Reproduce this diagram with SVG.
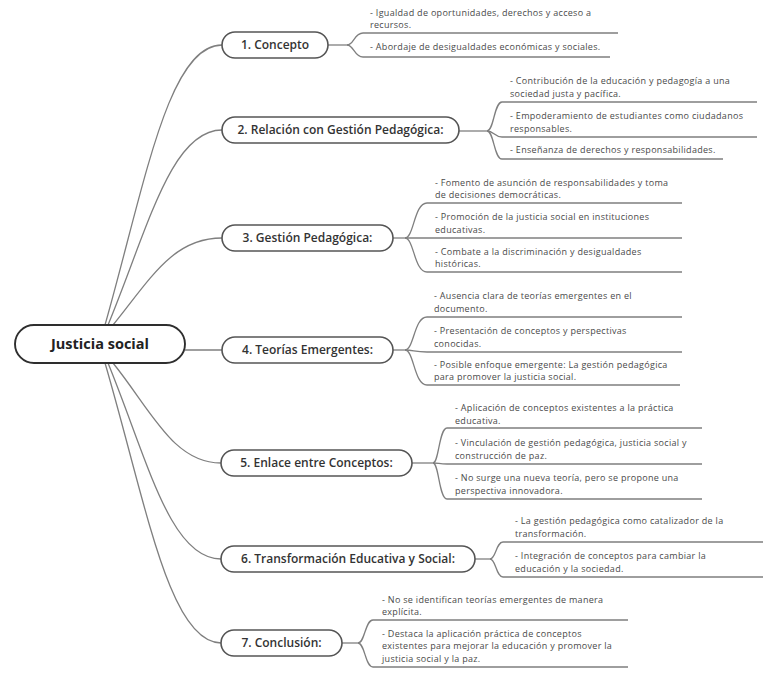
<svg xmlns="http://www.w3.org/2000/svg" width="775" height="680" viewBox="0 0 775 680">
<style>
.bg{fill:#ffffff}
.con{fill:none;stroke:#7f7f7f;stroke-width:1.3}
.sub{fill:#ffffff;stroke:#555555;stroke-width:1.6}
.root{fill:#ffffff;stroke:#2e2e2e;stroke-width:1.9}
.rt{font-family:"Open Sans","DejaVu Sans",sans-serif;font-size:14.5px;font-weight:700;fill:#222;text-anchor:middle}
.st{font-family:"Open Sans","DejaVu Sans",sans-serif;font-size:12px;font-weight:600;fill:#333;text-anchor:middle}
.lt{font-family:"Open Sans","DejaVu Sans",sans-serif;font-size:9px;letter-spacing:0.3px;fill:#4a4a4a}
</style>
<rect class="bg" x="0" y="0" width="775" height="680"/>
<g id="connectors">
  <path class="con" d="M105,325 C145,184 168,45 222,45"/>
  <path class="con" d="M108,325 C148,228 171,130 222,130"/>
  <path class="con" d="M113,325 C151,278 173,238 222,238"/>
  <path class="con" d="M185,350 H222"/>
  <path class="con" d="M113,363 C151,410 173,463 221,463"/>
  <path class="con" d="M108,363 C148,461 170,559 221,559"/>
  <path class="con" d="M105,363 C146,503 169,643 221,643"/>
  <path class="con" d="M328,45 H347"/>
  <path class="con" d="M347,45 C354,45 354,33 363,33 H618"/>
  <path class="con" d="M347,45 C354,45 354,57 363,57 H610"/>
  <path class="con" d="M459,131 H487"/>
  <path class="con" d="M487,131 C494,131 494,102 502,102 H757"/>
  <path class="con" d="M487,131 C494,131 494,137 502,137 H757"/>
  <path class="con" d="M487,131 C494,131 494,159 502,159 H723"/>
  <path class="con" d="M393,238 H405"/>
  <path class="con" d="M405,238 C414,238 414,203 427,203 H682"/>
  <path class="con" d="M405,238 H682"/>
  <path class="con" d="M405,238 C414,238 414,272 427,272 H682"/>
  <path class="con" d="M393,350 H405"/>
  <path class="con" d="M405,350 C414,350 414,317 427,317 H682"/>
  <path class="con" d="M405,350 C414,350 414,352 427,352 H682"/>
  <path class="con" d="M405,350 C414,350 414,385 427,385 H680"/>
  <path class="con" d="M412,463 H433"/>
  <path class="con" d="M433,463 C439,463 439,428 447,428 H702"/>
  <path class="con" d="M433,463 C439,463 439,464 447,464 H702"/>
  <path class="con" d="M433,463 C439,463 439,499 447,499 H702"/>
  <path class="con" d="M475,559 H490"/>
  <path class="con" d="M490,559 C496,559 496,542 503,542 H763"/>
  <path class="con" d="M490,559 C496,559 496,577 503,577 H763"/>
  <path class="con" d="M342,643 H358"/>
  <path class="con" d="M358,643 C365,643 365,620 373,620 H628"/>
  <path class="con" d="M358,643 C365,643 365,667 373,667 H628"/>
</g>
<g id="root">
  <rect class="root" x="15" y="325" width="170" height="38" rx="19"/>
  <text class="rt" x="100" y="349">Justicia social</text>
</g>
<g id="n1">
  <rect class="sub" x="222" y="32" width="106" height="26" rx="13"/>
  <text class="st" x="275" y="49">1. Concepto</text>
</g>
<g id="n2">
  <rect class="sub" x="222" y="117" width="237" height="26" rx="13"/>
  <text class="st" x="340.5" y="134">2. Relación con Gestión Pedagógica:</text>
</g>
<g id="n3">
  <rect class="sub" x="222" y="225" width="171" height="26" rx="13"/>
  <text class="st" x="307.5" y="242">3. Gestión Pedagógica:</text>
</g>
<g id="n4">
  <rect class="sub" x="222" y="337" width="171" height="26" rx="13"/>
  <text class="st" x="307.5" y="354">4. Teorías Emergentes:</text>
</g>
<g id="n5">
  <rect class="sub" x="221" y="450" width="191" height="26" rx="13"/>
  <text class="st" x="316.5" y="467">5. Enlace entre Conceptos:</text>
</g>
<g id="n6">
  <rect class="sub" x="221" y="546" width="254" height="26" rx="13"/>
  <text class="st" x="348" y="563">6. Transformación Educativa y Social:</text>
</g>
<g id="n7">
  <rect class="sub" x="221" y="630" width="121" height="26" rx="13"/>
  <text class="st" x="281.5" y="647">7. Conclusión:</text>
</g>
<g id="leaves1">
  <text class="lt" x="370" y="16">- Igualdad de oportunidades, derechos y acceso a<tspan x="370" dy="12.4">recursos.</tspan></text>
  <text class="lt" x="370" y="50">- Abordaje de desigualdades económicas y sociales.</text>
</g>
<g id="leaves2">
  <text class="lt" x="510" y="84.4">- Contribución de la educación y pedagogía a una<tspan x="510" dy="12.4">sociedad justa y pacífica.</tspan></text>
  <text class="lt" x="510" y="119.4">- Empoderamiento de estudiantes como ciudadanos<tspan x="510" dy="12.4">responsables.</tspan></text>
  <text class="lt" x="510" y="153">- Enseñanza de derechos y responsabilidades.</text>
</g>
<g id="leaves3">
  <text class="lt" x="435" y="186">- Fomento de asunción de responsabilidades y toma<tspan x="435" dy="12.4">de decisiones democráticas.</tspan></text>
  <text class="lt" x="435" y="220.4">- Promoción de la justicia social en instituciones<tspan x="435" dy="12.4">educativas.</tspan></text>
  <text class="lt" x="435" y="255">- Combate a la discriminación y desigualdades<tspan x="435" dy="12.4">históricas.</tspan></text>
</g>
<g id="leaves4">
  <text class="lt" x="434" y="299.4">- Ausencia clara de teorías emergentes en el<tspan x="434" dy="12.4">documento.</tspan></text>
  <text class="lt" x="434" y="334.4">- Presentación de conceptos y perspectivas<tspan x="434" dy="12.4">conocidas.</tspan></text>
  <text class="lt" x="434" y="368">- Posible enfoque emergente: La gestión pedagógica<tspan x="434" dy="12.4">para promover la justicia social.</tspan></text>
</g>
<g id="leaves5">
  <text class="lt" x="455" y="411.4">- Aplicación de conceptos existentes a la práctica<tspan x="455" dy="12.4">educativa.</tspan></text>
  <text class="lt" x="455" y="446.4">- Vinculación de gestión pedagógica, justicia social y<tspan x="455" dy="12.4">construcción de paz.</tspan></text>
  <text class="lt" x="455" y="481.4">- No surge una nueva teoría, pero se propone una<tspan x="455" dy="12.4">perspectiva innovadora.</tspan></text>
</g>
<g id="leaves6">
  <text class="lt" x="515" y="524.4">- La gestión pedagógica como catalizador de la<tspan x="515" dy="12.4">transformación.</tspan></text>
  <text class="lt" x="515" y="559.4">- Integración de conceptos para cambiar la<tspan x="515" dy="12.4">educación y la sociedad.</tspan></text>
</g>
<g id="leaves7">
  <text class="lt" x="382" y="603">- No se identifican teorías emergentes de manera<tspan x="382" dy="12.4">explícita.</tspan></text>
  <text class="lt" x="382" y="637">- Destaca la aplicación práctica de conceptos<tspan x="382" dy="12.4">existentes para mejorar la educación y promover la</tspan><tspan x="382" dy="12.4">justicia social y la paz.</tspan></text>
</g>
</svg>
